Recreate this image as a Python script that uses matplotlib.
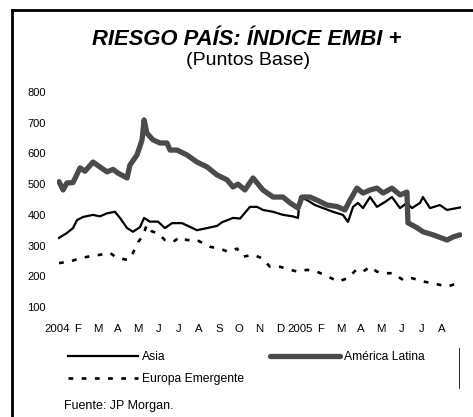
import matplotlib
matplotlib.use("Agg")
import matplotlib.pyplot as plt
from matplotlib.lines import Line2D

plt.rcParams['font.family'] = ['Liberation Sans', 'DejaVu Sans']

# time axis: months since Jan 2004
mes_labels = ["2004", "F", "M", "A", "M", "J", "J", "A", "S", "O", "N", "D",
              "2005", "F", "M", "A", "M", "J", "J", "A"]

latina_t = [0.10, 0.30, 0.49, 0.79, 1.14, 1.38, 1.78, 2.12, 2.47, 2.77, 3.01, 3.46,
            3.60, 3.95, 4.20, 4.30, 4.44, 4.74, 5.09, 5.43, 5.58, 5.93, 6.42, 6.91,
            7.41, 7.90, 8.40, 8.69, 8.94, 9.28, 9.68, 10.17, 10.67, 11.16, 11.51,
            11.90, 12.10, 12.49, 12.84, 13.33, 13.83, 14.22, 14.47, 14.81, 15.11,
            15.46, 15.80, 16.10, 16.54, 16.94, 17.28, 17.33, 17.78, 18.07, 18.57,
            19.26, 19.56, 19.90]
latina = [508, 481, 504, 505, 553, 542, 572, 556, 540, 548, 536, 520,
          562, 595, 644, 709, 666, 644, 634, 634, 611, 611, 595, 572,
          556, 530, 514, 491, 500, 481, 520, 481, 458, 458, 439,
          422, 458, 458, 448, 432, 427, 416, 448, 487, 471,
          481, 487, 471, 487, 465, 474, 374, 358, 345, 335,
          318, 328, 335]

asia_t = [0.10, 0.49, 0.79, 0.99, 1.28, 1.78, 2.12, 2.47, 2.86, 3.11, 3.46, 3.75,
          4.10, 4.30, 4.59, 4.99, 5.33, 5.68, 6.17, 6.47, 6.91, 7.41, 7.90, 8.15,
          8.69, 9.04, 9.53, 9.88, 10.17, 10.67, 11.16, 11.65, 11.90, 12.00, 12.35,
          12.74, 13.14, 13.63, 14.12, 14.37, 14.62, 14.86, 15.11, 15.46, 15.80,
          16.20, 16.54, 16.94, 17.28, 17.53, 17.93, 18.07, 18.42, 18.91, 19.26,
          19.90]
asia = [325, 341, 357, 383, 393, 400, 395, 405, 410, 390, 357, 345,
        360, 390, 378, 378, 357, 373, 373, 364, 350, 357, 364, 376,
        390, 388, 426, 426, 416, 410, 400, 395, 390, 458, 448,
        432, 422, 410, 400, 377, 426, 439, 422, 458, 426,
        442, 458, 422, 439, 422, 439, 458, 422, 432, 416,
        424]

europa_t = [0.10, 0.64, 1.14, 1.63, 2.12, 2.62, 2.96, 3.51, 3.75, 4.00, 4.20, 4.44,
            4.69, 4.99, 5.33, 5.73, 6.07, 6.42, 6.91, 7.56, 8.05, 8.44, 8.89, 9.19,
            9.68, 10.12, 10.52, 11.01, 11.51, 11.90, 12.35, 12.84, 13.38, 13.88,
            14.37, 14.77, 15.11, 15.46, 15.80, 16.20, 16.59, 17.09, 17.53, 18.07,
            18.52, 18.91, 19.31, 19.80]
europa = [243, 248, 259, 265, 270, 276, 260, 253, 276, 311, 328, 367,
          346, 340, 318, 312, 328, 318, 318, 296, 290, 280, 290, 264,
          270, 259, 231, 231, 221, 215, 221, 215, 199, 183,
          194, 221, 215, 231, 215, 210, 210, 188, 194, 183,
          178, 172, 167, 178]

fig = plt.figure(figsize=(4.73, 4.17), dpi=100)
ax = fig.add_axes([57 / 473, 1 - 307 / 417, 405 / 473, 215 / 417])

ax.plot(asia_t, asia, color="black", lw=1.6, label="Asia")
ax.plot(europa_t, europa, color="black", lw=1.9, dashes=(1.8, 3.2),
        label="Europa Emergente")
ax.plot(latina_t, latina, color="#4a4a4a", lw=3.8, solid_capstyle="round",
        label="América Latina")

ax.set_xlim(0, 20)
ax.set_ylim(100, 800)
for s in ax.spines.values():
    s.set_visible(False)

ax.set_yticks(range(100, 801, 100))
ax.tick_params(axis="y", length=0, pad=8, labelsize=8)
ax.set_yticks([200, 300], minor=True)
ax.tick_params(axis="y", which="minor", direction="in", length=3, width=0.8)

ax.set_xticks(range(len(mes_labels)))
ax.set_xticklabels(mes_labels)
ax.tick_params(axis="x", length=0, pad=12, labelsize=8.2)
ax.set_xticks([1, 2, 3, 9, 11, 13, 14, 16, 17], minor=True)
ax.tick_params(axis="x", which="minor", direction="out", length=4, width=0.6,
               color="#555555")

fig.text(0.522, 0.906, "RIESGO PAÍS: ÍNDICE EMBI +", ha="center", va="center",
         fontsize=15.8, fontweight="bold", fontstyle="italic")
fig.text(0.524, 0.855, "(Puntos Base)", ha="center", va="center", fontsize=14)

handles, labels = ax.get_legend_handles_labels()
leg = fig.legend(handles, labels,
                 loc="upper left", bbox_to_anchor=(68 / 473, 1 - 351 / 417),
                 ncol=2, frameon=False, fontsize=8.7, handlelength=5.8,
                 handletextpad=0.3, columnspacing=2.2, labelspacing=0.85,
                 borderpad=0, borderaxespad=0)

fig.text(64 / 473, 1 - 406 / 417, "Fuente: JP Morgan.", ha="left", va="center",
         fontsize=9)

# frame and small legend separator
fig.add_artist(Line2D([12 / 473, 12 / 473], [0, 1 - 10 / 417], color="black",
                      lw=2, transform=fig.transFigure))
fig.add_artist(Line2D([12 / 473, 1], [1 - 10 / 417, 1 - 10 / 417], color="black",
                      lw=2, transform=fig.transFigure))
fig.add_artist(Line2D([459 / 473, 459 / 473], [1 - 348 / 417, 1 - 388 / 417],
                      color="black", lw=0.6, transform=fig.transFigure))

fig.savefig("out.png", dpi=100)
